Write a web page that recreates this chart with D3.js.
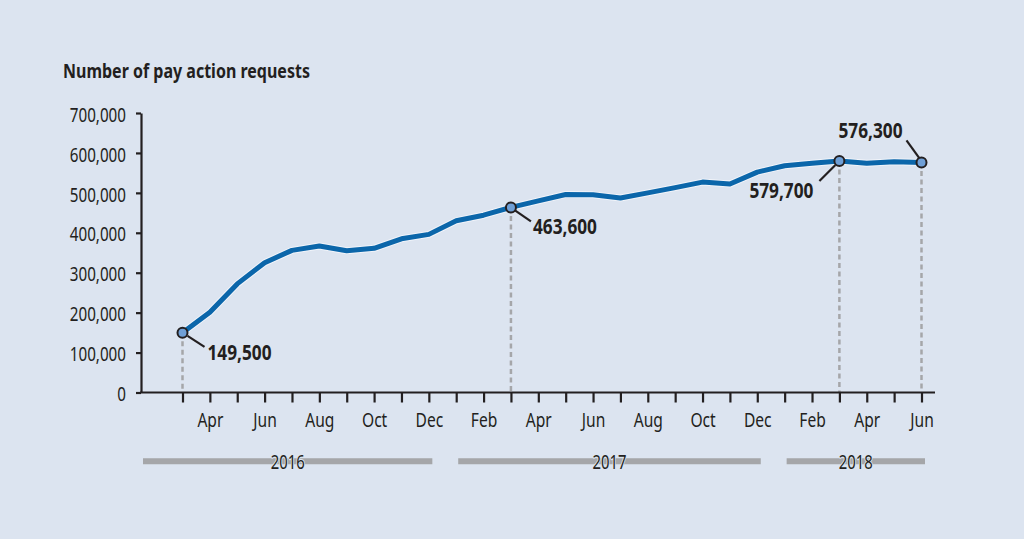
<!DOCTYPE html>
<html>
<head>
<meta charset="utf-8">
<script src="https://cdn.jsdelivr.net/npm/d3@7"></script>
<style>
  html, body { margin: 0; padding: 0; background: #dce4f0; }
  svg { display: block; }
  text { font-family: "Noto Sans", "Open Sans", "DejaVu Sans", sans-serif; fill: #231f20; }
</style>
</head>
<body>
<svg id="chart" width="1024" height="539"></svg>
<script>
// ---- data ----
const months = ["Mar","Apr","May","Jun","Jul","Aug","Sep","Oct","Nov","Dec",
                "Jan","Feb","Mar","Apr","May","Jun","Jul","Aug","Sep","Oct","Nov","Dec",
                "Jan","Feb","Mar","Apr","May","Jun"];
const values = [149500, 201000, 272000, 325000, 356000, 367000, 355000, 361000, 385000, 396000,
                430000, 444000, 463600, 480000, 496000, 495000, 487000, 500000, 513000, 527000, 522000, 552000,
                568000, 574000, 579700, 574000, 578000, 576300];
const yTicks = [0, 100000, 200000, 300000, 400000, 500000, 600000, 700000];
const monthLabelIdx = [1,3,5,7,9,11,13,15,17,19,21,23,25,27];
const years = ["2016", "2017", "2018"];
const yearFirst = [-2, 10, 22];   // index of January
const yearLast = [9, 21, 27];     // index of last month shown
const annotIdx = [0, 12, 24, 27];
const annotLabels = ["149,500", "463,600", "579,700", "576,300"];
const title = "Number of pay action requests";

// ---- layout / style ----
const svg = d3.select("#chart");
const bg = "#dce4f0";
const ink = "#231f20";
const x = d3.scaleLinear().domain([0, 27]).range([182.5, 921.5]);
const y = d3.scaleLinear().domain([0, 700000]).range([392.5, 113]);
const axisLeftX = 141;
const axisRightX = 935;

// horizontally condense text (reference uses a condensed face)
function condense(sel, f) {
  sel.each(function () {
    const w = this.getComputedTextLength();
    if (w > 0) {
      d3.select(this).attr("textLength", w * f).attr("lengthAdjust", "spacingAndGlyphs");
    }
  });
}

svg.append("rect").attr("width", 1024).attr("height", 539).attr("fill", bg);

// title
svg.append("text").attr("x", 63).attr("y", 77.5)
  .attr("font-size", 20).attr("font-weight", "bold").text(title)
  .call(condense, 0.8);

// dashed drop lines
svg.selectAll(".drop").data(annotIdx).join("line")
  .attr("x1", d => x(d)).attr("x2", d => x(d))
  .attr("y1", d => y(values[d])).attr("y2", y(0))
  .attr("stroke", "#a5a6a9").attr("stroke-width", 2.5).attr("stroke-dasharray", "5,3.5");

// y axis
const yAxis = svg.append("g").attr("transform", `translate(${axisLeftX},0)`)
  .call(d3.axisLeft(y).tickValues(yTicks).tickSize(5).tickSizeOuter(0).tickPadding(10).tickFormat(d3.format(",")));
yAxis.select(".domain").attr("stroke", ink).attr("stroke-width", 2.2);
yAxis.selectAll(".tick line").attr("stroke", ink).attr("stroke-width", 2.2);
yAxis.selectAll(".tick text").attr("font-size", 19).attr("fill", ink).attr("dy", "0.43em")
  .style("font-family", "'Noto Sans', 'Open Sans', sans-serif")
  .call(condense, 0.8);

// x axis
const xAxis = svg.append("g").attr("transform", `translate(0,${y(0)})`)
  .call(d3.axisBottom(x).tickValues(d3.range(months.length)).tickSize(10).tickSizeOuter(0).tickPadding(11)
    .tickFormat(i => monthLabelIdx.includes(i) ? months[i] : ""));
xAxis.select(".domain").remove();
xAxis.append("line").attr("x1", axisLeftX - 1).attr("x2", axisRightX).attr("y1", 0).attr("y2", 0)
  .attr("stroke", ink).attr("stroke-width", 2.2);
xAxis.selectAll(".tick line").attr("stroke", ink).attr("stroke-width", 2.2);
xAxis.selectAll(".tick text").attr("font-size", 19).attr("fill", ink)
  .style("font-family", "'Noto Sans', 'Open Sans', sans-serif")
  .call(condense, 0.82);

// year bars
const yearY = 461.3;
years.forEach((yr, k) => {
  const x0 = Math.max(axisLeftX + 2, x(yearFirst[k]) + 2);
  const x1 = x(yearLast[k]) + 3.5;
  svg.append("line").attr("x1", x0).attr("x2", x1).attr("y1", yearY).attr("y2", yearY)
    .attr("stroke", "#a5a6a9").attr("stroke-width", 6);
  svg.append("text").attr("x", (x0 + x1) / 2).attr("y", yearY + 8)
    .attr("text-anchor", "middle").attr("font-size", 19)
    .attr("stroke", bg).attr("stroke-width", 2).attr("paint-order", "stroke")
    .text(yr)
    .call(condense, 0.78);
});

// line
const line = d3.line().x((d, i) => x(i)).y(d => y(d));
svg.append("path").datum(values).attr("d", line).attr("fill", "none")
  .attr("stroke", "#f4f7fb").attr("stroke-width", 7).attr("stroke-linejoin", "round").attr("opacity", 0.85);
svg.append("path").datum(values).attr("d", line).attr("fill", "none")
  .attr("stroke", "#0b66aa").attr("stroke-width", 5).attr("stroke-linejoin", "round");

// annotation geometry (offsets from the marker)
const leadFrom = [[5, 3], [4, 3], [-4, 4], [-2, -4]];
const leadTo = [[22, 14], [20, 14], [-20, 20], [-15, -22]];
const labOff = [[25, 27], [22, 27], [-26, 37], [-19, -24]];

svg.selectAll(".lead").data(annotIdx).join("line")
  .attr("x1", (d, k) => x(d) + leadFrom[k][0])
  .attr("y1", (d, k) => y(values[d]) + leadFrom[k][1])
  .attr("x2", (d, k) => x(d) + leadTo[k][0])
  .attr("y2", (d, k) => y(values[d]) + leadTo[k][1])
  .attr("stroke", ink).attr("stroke-width", 2.2);

svg.selectAll(".pt").data(annotIdx).join("circle")
  .attr("cx", d => x(d)).attr("cy", d => y(values[d])).attr("r", 5)
  .attr("fill", "#6f9fd6").attr("stroke", ink).attr("stroke-width", 2);

svg.selectAll(".lab").data(annotIdx).join("text")
  .attr("x", (d, k) => x(d) + labOff[k][0])
  .attr("y", (d, k) => y(values[d]) + labOff[k][1])
  .attr("text-anchor", (d, k) => labOff[k][0] > 0 ? "start" : "end")
  .attr("font-size", 21).attr("font-weight", "bold")
  .text((d, k) => annotLabels[k])
  .call(condense, 0.82);
</script>
</body>
</html>
